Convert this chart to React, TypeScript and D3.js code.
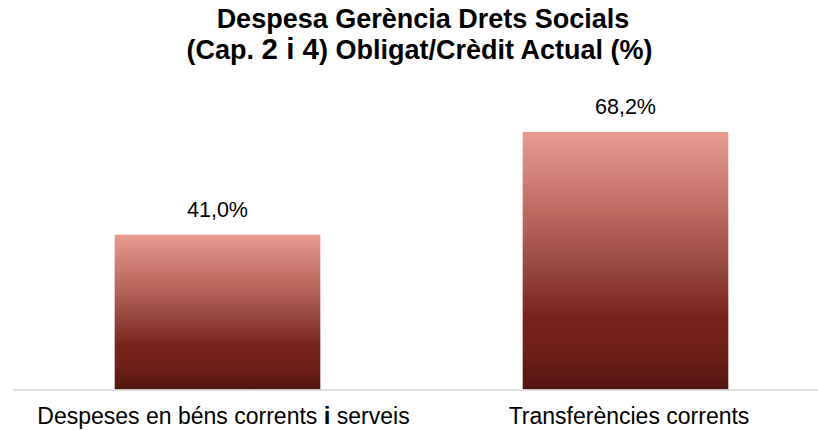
import React from "react";
import * as d3 from "d3";

const titleLine1 = "Despesa Gerència Drets Socials";
const titleLine2Parts = ["(Cap. ", "2 i 4", ") Obligat/Crèdit Actual (%)"];
const categories = ["Despeses en béns corrents i serveis", "Transferències corrents"];
const values = [41.0, 68.2];
const valueLabels = ["41,0%", "68,2%"];

const W = 818;
const H = 430;

export default function App() {
  const x = d3.scaleBand<string>().domain(categories).range([13.5, 829.5]).paddingInner(0.496).paddingOuter(0.248);
  const y = d3.scaleLinear().domain([0, 80]).range([389.5, 87.4]);
  const font = "'Liberation Sans', Arial, sans-serif";

  const renderCat = (c: string) => {
    const parts = c.split(" i ");
    if (parts.length === 2) {
      return (
        <>
          {parts[0] + " "}
          <tspan fontWeight="bold" fontSize={24}>i</tspan>
          {" " + parts[1]}
        </>
      );
    }
    return c;
  };

  return (
    <svg width={W} height={H} style={{ position: "absolute", left: 0, top: 0, background: "#fff" }}>
      <defs>
        <linearGradient id="barGrad" x1="0" y1="0" x2="0" y2="1">
          <stop offset="0" stopColor="#E99B8F" />
          <stop offset="0.3" stopColor="#BD6C60" />
          <stop offset="0.55" stopColor="#93443A" />
          <stop offset="0.72" stopColor="#78231A" />
          <stop offset="0.86" stopColor="#6E2017" />
          <stop offset="1" stopColor="#521610" />
        </linearGradient>
      </defs>
      <rect width={W} height={H} fill="#fff" />
      <g fontFamily={font} fontWeight="bold" fontSize={27} textAnchor="middle" fill="#000">
        <text x={423} y={27.5}>{titleLine1}</text>
        <text x={419.5} y={59} fontSize={27}>
          {titleLine2Parts[0]}
          <tspan fontSize={29.5}>{titleLine2Parts[1]}</tspan>
          {titleLine2Parts[2]}
        </text>
      </g>
      {categories.map((c, i) => (
        <rect
          key={c}
          x={x(c)}
          y={y(values[i])}
          width={x.bandwidth()}
          height={y(0) - y(values[i])}
          fill="url(#barGrad)"
        />
      ))}
      <line x1={13} x2={W} y1={390} y2={390} stroke="#D4D4D4" strokeWidth={1.5} />
      <g fontFamily={font} fontSize={21.5} textAnchor="middle" fill="#000">
        {categories.map((c, i) => (
          <text key={c} x={(x(c) as number) + x.bandwidth() / 2} y={y(values[i]) - 17.5}>
            {valueLabels[i]}
          </text>
        ))}
      </g>
      <g fontFamily={font} fontSize={23} textAnchor="middle" fill="#000">
        {categories.map((c, i) => (
          <text key={c} x={(x(c) as number) + x.bandwidth() / 2 + (i === 0 ? 6 : 3.5)} y={424}>
            {renderCat(c)}
          </text>
        ))}
      </g>
    </svg>
  );
}
